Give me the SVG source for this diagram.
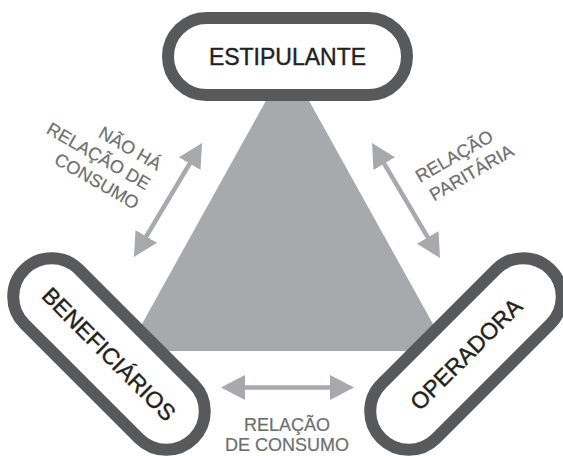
<svg xmlns="http://www.w3.org/2000/svg" width="563" height="456" viewBox="0 0 563 456">
  <style>
    .pill { fill: #ffffff; stroke: #58595b; stroke-width: 12; }
    .node-text { font-family: "Liberation Sans", Arial, sans-serif; font-size: 23px; fill: #231f20; stroke: #231f20; stroke-width: 0.4; text-anchor: middle; }
    .label { font-family: "Liberation Sans", Arial, sans-serif; font-size: 18px; fill: #6d6e71; stroke: #6d6e71; stroke-width: 0.2; }
    .shaft { stroke: #a7a9ac; stroke-width: 4.5; fill: none; }
  </style>
  <defs>
    <marker id="head" viewBox="0 0 24 25" markerWidth="24" markerHeight="25" refX="14" refY="12.5" markerUnits="userSpaceOnUse" orient="auto-start-reverse">
      <path d="M0,0 L24,12.5 L0,25 Z" fill="#a7a9ac"/>
    </marker>
  </defs>

  <polygon id="triangle" points="287.5,62 127,351 448,351" fill="#a7a9ac"/>

  <g id="connectors">
    <line class="shaft" x1="139.1" y1="248.4" x2="196.9" y2="151.6" marker-start="url(#head)" marker-end="url(#head)"/>
    <line class="shaft" x1="377.1" y1="151.6" x2="434.9" y2="249.4" marker-start="url(#head)" marker-end="url(#head)"/>
    <line class="shaft" x1="231" y1="387.5" x2="344" y2="387.5" marker-start="url(#head)" marker-end="url(#head)"/>
  </g>

  <g id="labels">
    <g transform="translate(157,171) rotate(30)">
      <text class="label" text-anchor="end" x="0" y="0">NÃO HÁ</text>
      <text class="label" text-anchor="end" x="0" y="22.5">RELAÇÃO DE</text>
      <text class="label" text-anchor="end" x="0" y="45">CONSUMO</text>
    </g>
    <g transform="translate(420,183) rotate(-30)">
      <text class="label" x="0" y="0">RELAÇÃO</text>
      <text class="label" x="3" y="23">PARITÁRIA</text>
    </g>
    <text class="label" text-anchor="middle" x="287" y="431">RELAÇÃO</text>
    <text class="label" text-anchor="middle" x="287" y="451">DE CONSUMO</text>
  </g>

  <g id="estipulante">
    <rect class="pill" x="168" y="18" width="239" height="77" rx="38.5"/>
    <text class="node-text" x="287.5" y="64.7">ESTIPULANTE</text>
  </g>

  <g id="beneficiarios" transform="translate(109,354) rotate(45)">
    <rect class="pill" x="-119.5" y="-38.5" width="239" height="77" rx="38.5"/>
    <text class="node-text" x="0" y="8.2">BENEFICIÁRIOS</text>
  </g>

  <g id="operadora" transform="translate(466,354) rotate(-45)">
    <rect class="pill" x="-119.5" y="-38.5" width="239" height="77" rx="38.5"/>
    <text class="node-text" x="0" y="8.2">OPERADORA</text>
  </g>
</svg>
